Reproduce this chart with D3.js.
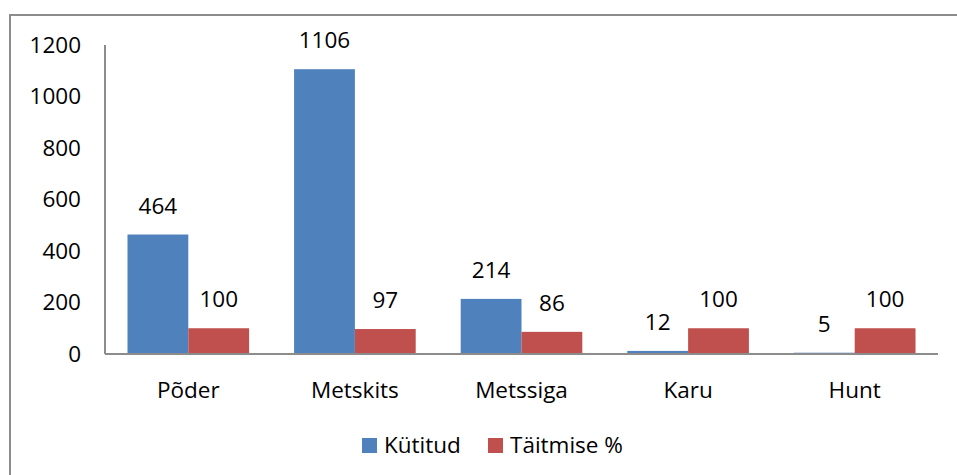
<!doctype html>
<html>
<head>
<meta charset="utf-8">
<script src="https://d3js.org/d3.v7.min.js"></script>
<style>
  body { margin: 0; background: #fff; }
  svg text { font-family: "Open Sans", sans-serif; fill: #000; }
</style>
</head>
<body>
<svg id="chart" width="957" height="475"></svg>
<script>
    // data
    var categories = ["Põder", "Metskits", "Metssiga", "Karu", "Hunt"];
    var seriesNames = ["Kütitud", "Täitmise %"];
    var kutitud = [464, 1106, 214, 12, 5];
    var taitmine = [100, 97, 86, 100, 100];
    var yTicks = [0, 200, 400, 600, 800, 1000, 1200];
    var colors = ["#4F81BD", "#C0504D"];

    var svg = d3.select("#chart");
    var fs = 22.5;

    // outer border (runs off right and bottom edges)
    svg.append("rect")
        .attr("x", 10).attr("y", 15)
        .attr("width", 960).attr("height", 480)
        .attr("fill", "none")
        .attr("stroke", "#8c8c8c")
        .attr("stroke-width", 2);

    var x = d3.scaleBand()
        .domain(categories)
        .range([105, 938])
        .paddingInner(0.27)
        .paddingOuter(0.135);

    var xs = d3.scaleBand()
        .domain(seriesNames)
        .range([0, x.bandwidth()]);

    var y = d3.scaleLinear()
        .domain([0, 1200])
        .range([354, 45]);

    // y axis line
    svg.append("line")
        .attr("x1", 105).attr("x2", 105)
        .attr("y1", y(1200)).attr("y2", y(0))
        .attr("stroke", "#8c8c8c").attr("stroke-width", 2);

    // y tick labels
    svg.append("g").selectAll("text")
        .data(yTicks)
        .enter()
        .append("text")
        .attr("x", 81)
        .attr("y", d => y(d))
        .attr("dy", "0.35em")
        .attr("text-anchor", "end")
        .style("font-size", fs + "px")
        .text(d => d);

    var rows = categories.map((c, i) => ({cat: c, vals: [kutitud[i], taitmine[i]]}));

    var groups = svg.append("g").selectAll("g")
        .data(rows)
        .enter()
        .append("g")
        .attr("transform", d => "translate(" + x(d.cat) + ",0)");

    groups.selectAll("rect")
        .data(d => d.vals.map((v, j) => ({name: seriesNames[j], v: v, j: j})))
        .enter()
        .append("rect")
        .attr("x", d => xs(d.name))
        .attr("width", xs.bandwidth())
        .attr("y", d => y(d.v))
        .attr("height", d => y(0) - y(d.v))
        .attr("fill", d => colors[d.j]);

    groups.selectAll("text.val")
        .data(d => d.vals.map((v, j) => ({name: seriesNames[j], v: v, j: j})))
        .enter()
        .append("text")
        .attr("class", "val")
        .attr("x", d => xs(d.name) + xs.bandwidth() / 2)
        .attr("y", d => y(d.v) - 21)
        .attr("text-anchor", "middle")
        .style("font-size", fs + "px")
        .text(d => d.v);

    // x axis line
    svg.append("line")
        .attr("x1", 105).attr("x2", 938)
        .attr("y1", y(0)).attr("y2", y(0))
        .attr("stroke", "#8c8c8c").attr("stroke-width", 2);

    // category labels
    svg.append("g").selectAll("text")
        .data(categories)
        .enter()
        .append("text")
        .attr("x", d => x(d) + x.bandwidth() / 2)
        .attr("y", 390)
        .attr("dy", "0.35em")
        .attr("text-anchor", "middle")
        .style("font-size", fs + "px")
        .text(d => d);

    // legend
    var legX = [362, 488];
    var leg = svg.append("g").selectAll("g")
        .data(seriesNames)
        .enter()
        .append("g")
        .attr("transform", (d, i) => "translate(" + legX[i] + ",438)");
    leg.append("rect")
        .attr("width", 15).attr("height", 15)
        .attr("fill", (d, i) => colors[i]);
    leg.append("text")
        .attr("x", 22).attr("y", 7.5)
        .attr("dy", "0.35em")
        .style("font-size", fs + "px")
        .text(d => d);
</script>
</body>
</html>
